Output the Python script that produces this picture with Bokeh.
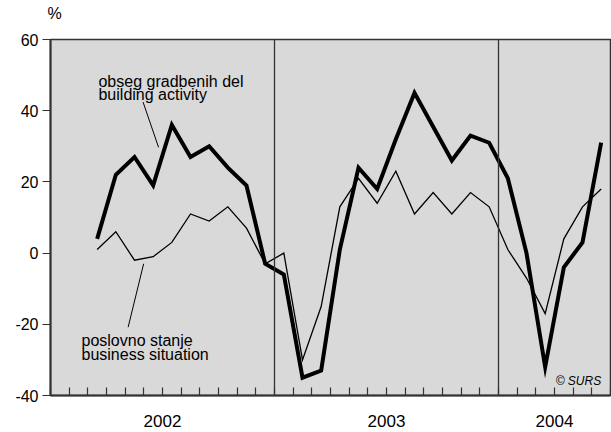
from bokeh.plotting import figure
from bokeh.models import Range1d, FixedTicker, Span, Label, ColumnDataSource, LinearAxis
from bokeh.embed import file_html
from bokeh.resources import INLINE

# --- data -------------------------------------------------------------
years = ["2002", "2003", "2004"]
months = (["2002-%02d" % m for m in range(3, 13)] +
          ["2003-%02d" % m for m in range(1, 13)] +
          ["2004-%02d" % m for m in range(1, 7)])
building_activity = [4, 22, 27, 19, 36, 27, 30, 24, 19, -3,
                     -6, -35, -33, 1, 24, 18, 32, 45, 35.5, 26, 33, 31,
                     21, 0, -32, -4, 3, 31]
business_situation = [1, 6, -2, -1, 3, 11, 9, 13, 7, -3,
                      0, -30, -15, 13, 21, 14, 23, 11, 17, 11, 17, 13,
                      1, -7, -17, 4, 13, 18]
y_ticks = [-40, -20, 0, 20, 40, 60]
unit_label = "%"

# month index (0 = Jan 2002), points in the middle of each month
def month_pos(s):
    y, m = s.split("-")
    return (int(y) - 2002) * 12 + (int(m) - 1) + 0.5

x = [month_pos(s) for s in months]
n_months = 30
year_centers = {6: years[0], 18: years[1], 27: years[2]}

FONT = "Liberation Sans"

p = figure(width=611, height=432, output_backend="svg", toolbar_location=None,
           x_range=Range1d(0, n_months), y_range=Range1d(-40, 60),
           min_border_left=50, min_border_right=1, min_border_top=39, min_border_bottom=37)
p.background_fill_color = "#d9d9d9"
p.border_fill_color = "white"
p.outline_line_color = "#333333"
p.outline_line_width = 1.5
p.grid.visible = False

xa = p.below[0]
ya = p.left[0]

# y axis
ya.ticker = FixedTicker(ticks=y_ticks)
ya.major_label_overrides = {t: str(t) for t in y_ticks}
ya.minor_tick_line_color = None
ya.major_tick_out = 8
ya.major_tick_in = 0
ya.major_tick_line_color = "#333333"
ya.major_tick_line_width = 1.2
ya.axis_line_color = "#333333"
ya.axis_line_width = 2
ya.major_label_text_font = FONT
ya.major_label_text_font_size = "16px"
ya.major_label_text_color = "black"
ya.major_label_standoff = 4

# x axis: ticks at month boundaries, year labels at year centers
xa.ticker = FixedTicker(ticks=list(range(0, n_months + 1)))
xa.major_label_overrides = {t: year_centers.get(t, "") for t in range(0, n_months + 1)}
xa.minor_tick_line_color = None
xa.major_tick_out = 0
xa.major_tick_in = 8
xa.major_tick_line_color = "#333333"
xa.major_tick_line_width = 1.2
xa.axis_line_color = "#333333"
xa.axis_line_width = 2
xa.major_label_text_font = FONT
xa.major_label_text_font_size = "17px"
xa.major_label_text_color = "black"
xa.major_label_standoff = 19

# "%" unit label, drawn as a label-only axis above the frame
p.extra_x_ranges = {"unit": Range1d(0, 140)}
ua = LinearAxis(x_range_name="unit", ticker=FixedTicker(ticks=[1]),
                major_label_overrides={1: unit_label},
                axis_line_color=None, major_tick_line_color=None, minor_tick_line_color=None,
                major_tick_in=0, major_tick_out=0, major_label_standoff=18,
                major_label_text_font=FONT, major_label_text_font_size="16px",
                major_label_text_color="black")
p.add_layout(ua, "above")

# year separators
for loc in (12, 24):
    p.add_layout(Span(location=loc, dimension="height", line_color="#333333", line_width=1.3))

# series
p.line(x, business_situation, line_color="black", line_width=1.3, line_join="miter")
p.line(x, building_activity, line_color="black", line_width=4, line_join="miter")

# annotations
def lab(t, xx, yy, size="16px", style="normal", align="left"):
    p.add_layout(Label(x=xx, y=yy, text=t, text_font=FONT, text_font_size=size,
                       text_font_style=style, text_align=align, text_baseline="alphabetic",
                       text_color="black"))

lab("obseg gradbenih del", 2.57, 48.3)
lab("building activity", 2.57, 44.5)
lab("poslovno stanje", 1.66, -24.5)
lab("business situation", 1.66, -28.4)
lab("© SURS", 29.5, -35.8, size="12px", style="italic", align="right")

seg = ColumnDataSource(dict(x0=[4.96, 4.16], y0=[42.4, -20.8], x1=[5.79, 4.99], y1=[29.7, -3.0]))
p.segment("x0", "y0", "x1", "y1", source=seg, line_color="black", line_width=1)

open("out.html", "w").write(file_html(p, INLINE))
